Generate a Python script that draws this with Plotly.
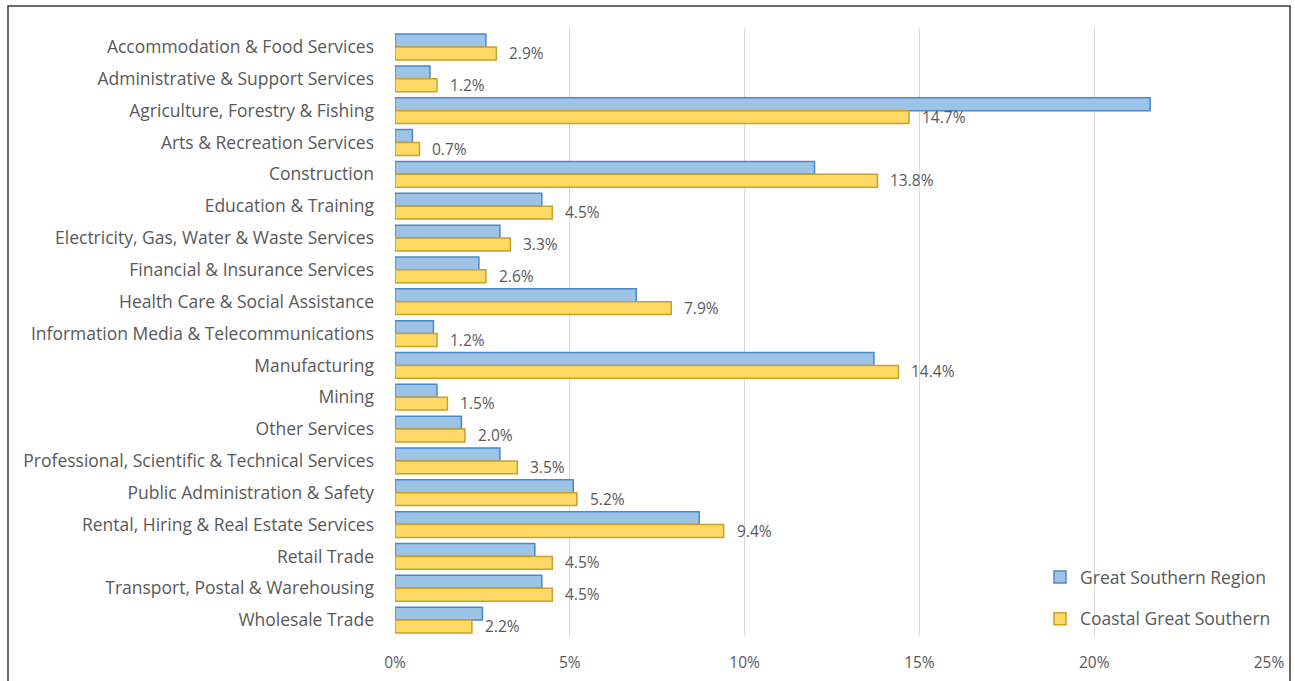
import plotly.graph_objects as go

industries = [
    "Accommodation & Food Services",
    "Administrative & Support Services",
    "Agriculture, Forestry & Fishing",
    "Arts & Recreation Services",
    "Construction",
    "Education & Training",
    "Electricity, Gas, Water & Waste Services",
    "Financial & Insurance Services",
    "Health Care & Social Assistance",
    "Information Media & Telecommunications",
    "Manufacturing",
    "Mining",
    "Other Services",
    "Professional, Scientific & Technical Services",
    "Public Administration & Safety",
    "Rental, Hiring & Real Estate Services",
    "Retail Trade",
    "Transport, Postal & Warehousing",
    "Wholesale Trade",
]

great_southern_region = [2.6, 1.0, 21.6, 0.5, 12.0, 4.2, 3.0, 2.4, 6.9, 1.1,
                         13.7, 1.2, 1.9, 3.0, 5.1, 8.7, 4.0, 4.2, 2.5]
coastal_great_southern = [2.9, 1.2, 14.7, 0.7, 13.8, 4.5, 3.3, 2.6, 7.9, 1.2,
                          14.4, 1.5, 2.0, 3.5, 5.2, 9.4, 4.5, 4.5, 2.2]

x_ticks = [0, 5, 10, 15, 20, 25]
x_tick_labels = [f"{t}%" for t in x_ticks]

FONT = "Open Sans"
GREY = "#595959"

fig = go.Figure()
fig.add_trace(go.Bar(
    y=industries, x=great_southern_region, orientation="h",
    name="Great Southern Region", legendgroup="a",
    marker=dict(color="#9dc3e6", line=dict(color="#4a88cc", width=1.5)),
))
fig.add_trace(go.Bar(
    y=industries, x=coastal_great_southern, orientation="h",
    name="Coastal Great Southern", legendgroup="b",
    marker=dict(color="#ffd966", line=dict(color="#c9a02a", width=1.5)),
))

# value labels next to the Coastal Great Southern bars
for cat, v in zip(industries, coastal_great_southern):
    fig.add_annotation(
        x=v, y=cat, text=f"{v:.1f}%", showarrow=False,
        xanchor="left", yanchor="middle", xshift=11, yshift=-6,
        font=dict(family=FONT, size=15.5, color=GREY),
    )

# outer frame
fig.add_shape(
    type="rect", xref="paper", yref="paper",
    x0=(8 - 395) / 874, x1=(1290 - 395) / 874,
    y0=-0.2, y1=1 + (28 - 6) / 608,
    line=dict(color="#3a3a3a", width=1.5), fillcolor="rgba(0,0,0,0)",
    layer="below",
)

fig.update_layout(
    width=1295, height=681,
    margin=dict(l=395, r=26, t=28, b=45, autoexpand=False),
    paper_bgcolor="white", plot_bgcolor="white",
    barmode="group", bargap=0.19, bargroupgap=0,
    font=dict(family=FONT, size=17.5, color=GREY),
    showlegend=True,
    legend=dict(
        x=(1040 - 395) / 874, y=1 - (559 - 28) / 608,
        xanchor="left", yanchor="top",
        bgcolor="rgba(255,255,255,0)",
        font=dict(family=FONT, size=17.5, color=GREY),
        tracegroupgap=16, traceorder="grouped",
    ),
    xaxis=dict(
        range=[0, 25], tickvals=x_ticks, ticktext=x_tick_labels,
        showgrid=True, gridcolor="#d9d9d9", gridwidth=1,
        zeroline=False, showline=False, ticklabelstandoff=15,
        tickfont=dict(family=FONT, size=15.5, color=GREY),
        automargin=False, fixedrange=True,
    ),
    yaxis=dict(
        autorange="reversed", showgrid=False, zeroline=False,
        showline=False, ticklabelstandoff=20,
        tickfont=dict(family=FONT, size=17.5, color=GREY),
        automargin=False, fixedrange=True,
    ),
)

fig.write_html("out.html")
